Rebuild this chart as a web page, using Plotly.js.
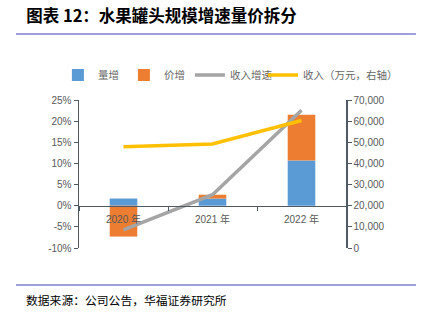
<!DOCTYPE html>
<html><head><meta charset="utf-8">
<script src="https://cdn.plot.ly/plotly-3.0.1.min.js"></script>
<style>html,body{margin:0;padding:0;background:#fff}#c{width:429px;height:322px}</style>
</head><body><div id="c"></div>
<script>
const years = ['2020 年', '2021 年', '2022 年'];
const volumeGrowth = [1.7, 1.7, 10.7];     // 量增 %
const priceGrowth = [-7.3, 0.9, 10.8];     // 价增 %
const revenueGrowth = [-5.7, 2.6, 22.6];   // 收入增速 %
const revenue = [47900, 49200, 60300];     // 收入（万元）
const leftTicks = [-10, -5, 0, 5, 10, 15, 20, 25];
const rightTicks = [0, 10000, 20000, 30000, 40000, 50000, 60000, 70000];

const tickFont = {family: 'Liberation Sans, Noto Sans CJK SC', size: 10, color: '#595959'};
const legFont = {family: 'Noto Sans CJK SC', size: 10.5, color: '#666666'};
const data = [
  {type: 'bar', name: '量增', x: years, y: volumeGrowth, marker: {color: '#5b9bd5'}, width: 0.31, legend: 'legend'},
  {type: 'bar', name: '价增', x: years, y: priceGrowth, marker: {color: '#ed7d31'}, width: 0.31, legend: 'legend'},
  {type: 'scatter', mode: 'lines', name: '收入增速', x: years, y: revenueGrowth, line: {color: '#a5a5a5', width: 3.5}, legend: 'legend'},
  {type: 'scatter', mode: 'lines', name: '收入（万元，右轴）', x: years, y: revenue, yaxis: 'y2', line: {color: '#ffc000', width: 3.5}, legend: 'legend2'}
];
const layout = {
  width: 429, height: 322,
  margin: {l: 79, r: 83, t: 100, b: 74},
  paper_bgcolor: '#fff', plot_bgcolor: '#fff',
  barmode: 'relative',
  showlegend: true,
  legend: {orientation: 'h', x: 0.135, xref: 'container', xanchor: 'left', y: 0.767, yref: 'container', yanchor: 'middle',
           font: legFont, itemwidth: 30, tracegroupgap: 0, bgcolor: 'rgba(0,0,0,0)'},
  legend2: {orientation: 'h', x: 0.613, xref: 'container', xanchor: 'left', y: 0.767, yref: 'container', yanchor: 'middle',
           font: legFont, itemwidth: 30, tracegroupgap: 0, bgcolor: 'rgba(0,0,0,0)'},
  title: {text: '图表 12：水果罐头规模增速量价拆分', x: 0.061, xref: 'container', xanchor: 'left', y: 0.95, yref: 'container', yanchor: 'middle',
          font: {family: 'Noto Sans CJK SC', size: 16.5, color: '#000', weight: 'bold'}},
  xaxis: {type: 'category', anchor: 'free', position: 0.2838, showline: true, linecolor: '#505a64', linewidth: 1.5,
          ticks: 'outside', tickson: 'boundaries', ticklen: 4, tickcolor: '#505a64', tickfont: tickFont, ticklabelstandoff: 4,
          showgrid: false, zeroline: false},
  yaxis: {range: [-10, 25], tickvals: leftTicks, ticktext: leftTicks.map(v => v + '%'), showline: true, linecolor: '#505a64', linewidth: 1.5,
          ticks: 'outside', ticklen: 4, tickcolor: '#505a64', tickfont: tickFont, showgrid: false, zeroline: false},
  yaxis2: {range: [0, 70000], overlaying: 'y', side: 'right', tickvals: rightTicks, tickformat: ',', showline: true, linecolor: '#505a64', linewidth: 1.5,
           ticks: 'outside', ticklen: 4, tickcolor: '#505a64', tickfont: tickFont, showgrid: false, zeroline: false},
  shapes: [
    {type: 'line', xref: 'paper', yref: 'paper', x0: -0.236, x1: 1.262, y0: 1.446, y1: 1.446, line: {color: '#7f7fcf', width: 1.5}},
    {type: 'line', xref: 'paper', yref: 'paper', x0: -0.236, x1: 1.262, y0: -0.25, y1: -0.25, line: {color: '#7f7fcf', width: 1.5}}
  ],
  annotations: [
    {text: '数据来源：公司公告，华福证券研究所', xref: 'paper', yref: 'paper', x: -0.205, y: -0.351, xanchor: 'left', yanchor: 'middle', showarrow: false,
     font: {family: 'Noto Sans CJK SC', size: 11.8, color: '#000'}}
  ]
};
Plotly.newPlot('c', data, layout, {staticPlot: true, displayModeBar: false});
</script></body></html>
